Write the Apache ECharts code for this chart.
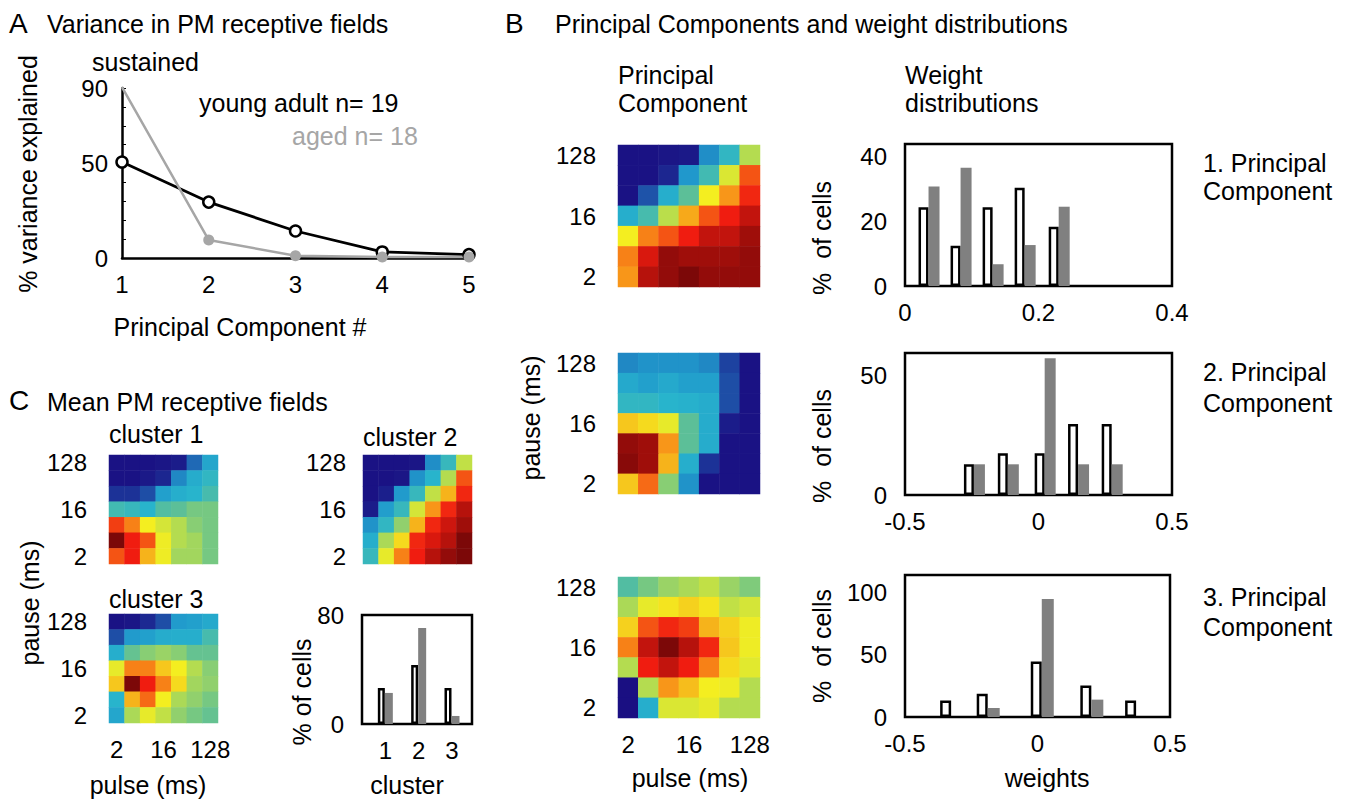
<!DOCTYPE html>
<html>
<head>
<meta charset="utf-8">
<title>PM receptive fields</title>
<script src="https://cdn.jsdelivr.net/npm/echarts@6/dist/echarts.min.js"></script>
<style>body{margin:0;background:#fff;}</style>
</head>
<body>
<div id="main" style="width:1348px;height:803px;"></div>
<script>
// ---- data ----
var pcNumber = [1, 2, 3, 4, 5];
var varYoung = [50.8, 29.6, 14.3, 3.2, 1.8];
var varAged = [90.5, 9.5, 1.2, 0.5, 0.5];

var pulseLevels = ['2', '4', '8', '16', '32', '64', '128'];
var pauseLevels = ['2', '4', '8', '16', '32', '64', '128'];

// rows from pause 128 (top) down to pause 2, columns pulse 2 -> 128, jet scale 0-100
var pc1Field = [
    [2, 2, 3, 4, 28, 42, 60],
    [2, 2, 8, 30, 45, 66, 85],
    [2, 17, 38, 50, 70, 79, 89],
    [38, 46, 61, 77, 85, 90, 94],
    [70, 81, 85, 90, 94, 94, 97],
    [81, 92, 98, 97, 97, 97, 98],
    [79, 95, 98, 100, 98, 98, 98]
];
var pc2Field = [
    [27, 29, 29, 29, 27, 14, 2],
    [36, 33, 36, 33, 33, 16, 2],
    [42, 42, 40, 39, 37, 16, 2],
    [74, 72, 68, 50, 37, 5, 2],
    [98, 97, 79, 50, 37, 2, 2],
    [99, 97, 76, 38, 11, 2, 2],
    [74, 83, 55, 29, 2, 2, 2]
];
var pc3Field = [
    [48, 53, 57, 59, 62, 57, 54],
    [59, 68, 71, 73, 71, 62, 65],
    [73, 85, 89, 87, 76, 73, 69],
    [81, 94, 100, 95, 89, 74, 69],
    [60, 90, 94, 90, 81, 72, 67],
    [1, 60, 79, 75, 70, 69, 60],
    [1, 38, 66, 66, 68, 60, 60]
];
var cluster1Field = [
    [2, 2, 2, 3, 5, 21, 35],
    [2, 2, 4, 8, 27, 37, 42],
    [11, 11, 16, 33, 38, 40, 46],
    [45, 43, 40, 48, 50, 53, 53],
    [87, 81, 70, 65, 60, 55, 53],
    [100, 90, 85, 69, 60, 58, 53],
    [85, 90, 76, 69, 58, 58, 53]
];
var cluster2Field = [
    [2, 2, 2, 3, 28, 43, 62],
    [2, 2, 3, 29, 40, 60, 85],
    [2, 6, 31, 43, 62, 76, 89],
    [5, 32, 43, 65, 79, 89, 95],
    [29, 42, 56, 76, 89, 93, 97],
    [38, 59, 72, 89, 92, 95, 100],
    [43, 68, 81, 90, 95, 98, 100]
];
var cluster3Field = [
    [2, 3, 9, 16, 31, 33, 36],
    [16, 31, 33, 37, 38, 38, 46],
    [38, 51, 55, 57, 55, 51, 51],
    [68, 81, 81, 74, 70, 60, 55],
    [74, 100, 90, 81, 72, 58, 56],
    [40, 76, 83, 70, 59, 56, 53],
    [35, 59, 68, 62, 56, 53, 51]
];

// weight histograms (bin centres, % of cells)
var w1Bins = [0.036, 0.084, 0.132, 0.18, 0.231];
var w1Young = [24.2, 12.4, 24.2, 30.2, 18.2];
var w1Aged = [30.6, 36.4, 6.7, 12.6, 24.4];

var w2Bins = [-0.24, -0.113, 0.025, 0.15, 0.276];
var w2Young = [12.8, 17.4, 17.4, 29.6, 29.6];
var w2Aged = [12.8, 12.8, 57, 12.8, 12.8];

var w3Bins = [-0.324, -0.186, 0.018, 0.205, 0.374];
var w3Young = [13.3, 18.7, 44.5, 25.3, 13.3];
var w3Aged = [0, 7.2, 94.4, 13.9, 0];

var clusterNumber = [1, 2, 3];
var clusterYoung = [26.4, 43.3, 26.4];
var clusterAged = [22.8, 70.5, 5.9];

var jetColors = ['#1a0c80', '#1c2c94', '#1f64b2', '#2098cc', '#28b4cc', '#5cbf98',
    '#b4dc50', '#f4ee20', '#f88c18', '#f01c10', '#7c0808'];

// ---- helpers ----
var FONT = 'Liberation Sans, Arial, sans-serif';
var GRAY = '#a6a6a6';
var BARGRAY = '#808080';
var chart = echarts.init(document.getElementById('main'), null, {renderer: 'svg'});

function pairs(xs, ys) {
    return xs.map(function (x, i) { return [x, ys[i]]; });
}
function cells(rows) {
    var out = [];
    for (var r = 0; r < rows.length; r++) {
        for (var c = 0; c < rows[r].length; c++) {
            out.push([c, rows.length - 1 - r, rows[r][c]]);
        }
    }
    return out;
}
function lbl(extra) {
    var o = {color: '#000', fontSize: 24, fontFamily: FONT};
    for (var k in extra) o[k] = extra[k];
    return o;
}
function onlyValues(list) {
    return function (v) {
        for (var i = 0; i < list.length; i++) {
            if (Math.abs(v - list[i]) < 1e-9) return String(list[i]);
        }
        return '';
    };
}
function txt(t, x, y, opt) {
    opt = opt || {};
    return {
        type: 'text', x: x, y: y, rotation: opt.rot || 0,
        style: {
            text: t, fill: opt.color || '#000',
            font: (opt.size || 25) + 'px ' + FONT,
            align: opt.align || 'left', verticalAlign: 'middle'
        }
    };
}

var grids = [
    {left: 122, top: 88, width: 347, height: 170},   // A
    {left: 618, top: 145, width: 142, height: 142},  // PC1
    {left: 618, top: 353, width: 142, height: 141},  // PC2
    {left: 618, top: 577, width: 142, height: 141},  // PC3
    {left: 905, top: 144, width: 267, height: 142},  // weights 1
    {left: 905, top: 353, width: 267, height: 142},  // weights 2
    {left: 905, top: 575, width: 265, height: 142},  // weights 3
    {left: 109, top: 455, width: 109, height: 109},  // cluster 1
    {left: 363, top: 455, width: 109, height: 109},  // cluster 2
    {left: 109, top: 614, width: 109, height: 109},  // cluster 3
    {left: 362, top: 615, width: 110, height: 109}   // cluster bars
];
grids.forEach(function (g, i) {
    g.outerBoundsMode = 'none';
    g.containLabel = false;
    if (i >= 4 && i <= 6 || i === 10) {
        g.show = true;
        g.borderColor = '#000';
        g.borderWidth = 2.5;
        g.backgroundColor = 'transparent';
    }
});

function heatX(gi, showLabels) {
    return {
        gridIndex: gi, type: 'category', data: pulseLevels,
        axisLine: {show: false}, axisTick: {show: false}, splitLine: {show: false},
        axisLabel: lbl({show: showLabels, interval: 2, margin: 14})
    };
}
function heatY(gi, margin) {
    return {
        gridIndex: gi, type: 'category', data: pauseLevels,
        axisLine: {show: false}, axisTick: {show: false}, splitLine: {show: false},
        axisLabel: lbl({interval: 2, margin: margin})
    };
}
function histX(gi, min, max, interval) {
    return {
        gridIndex: gi, type: 'value', min: min, max: max, interval: interval,
        axisLine: {show: false}, axisTick: {show: false}, splitLine: {show: false},
        axisLabel: lbl({margin: 14})
    };
}
function histY(gi, max, interval, shown) {
    return {
        gridIndex: gi, type: 'value', min: 0, max: max, interval: interval,
        axisLine: {show: false}, axisTick: {show: false}, splitLine: {show: false},
        axisLabel: lbl({margin: 18, formatter: onlyValues(shown)})
    };
}
function heatSeries(ai, rows) {
    return {
        type: 'heatmap', xAxisIndex: ai, yAxisIndex: ai, data: cells(rows),
        itemStyle: {borderWidth: 0}, emphasis: {disabled: true}
    };
}
function barPair(ai, xs, young, aged, w) {
    return [{
        type: 'bar', xAxisIndex: ai, yAxisIndex: ai, data: pairs(xs, young),
        barWidth: w, barGap: '0%',
        itemStyle: {color: '#fff', borderColor: '#000', borderWidth: 2.5}
    }, {
        type: 'bar', xAxisIndex: ai, yAxisIndex: ai, data: pairs(xs, aged),
        barWidth: w + 1, barGap: '0%',
        itemStyle: {color: BARGRAY}
    }];
}

var xAxes = [
    {
        gridIndex: 0, type: 'value', min: 1, max: 5, interval: 1,
        axisLine: {lineStyle: {color: '#000', width: 2.5}},
        axisTick: {show: false}, splitLine: {show: false},
        axisLabel: lbl({margin: 14})
    },
    heatX(1, false), heatX(2, false), heatX(3, true),
    histX(4, 0, 0.4, 0.2), histX(5, -0.5, 0.5, 0.5), histX(6, -0.5, 0.5, 0.5),
    heatX(7, false), heatX(8, false), heatX(9, true),
    {
        gridIndex: 10, type: 'value', min: 0.3, max: 3.6,
        axisLine: {show: false}, axisTick: {show: false}, splitLine: {show: false},
        axisLabel: lbl({margin: 14, formatter: onlyValues(clusterNumber)})
    }
];
var yAxes = [
    {
        gridIndex: 0, type: 'value', min: 0, max: 90, interval: 10,
        axisLine: {lineStyle: {color: '#000', width: 2.5}},
        axisTick: {inside: true, length: 4, lineStyle: {color: '#000', width: 1}},
        splitLine: {show: false},
        axisLabel: lbl({margin: 14, formatter: onlyValues([0, 50, 90])})
    },
    heatY(1, 22), heatY(2, 22), heatY(3, 22),
    histY(4, 43.7, 20, [0, 20, 40]), histY(5, 59.2, 50, [0, 50]), histY(6, 113.6, 50, [0, 50, 100]),
    heatY(7, 22), heatY(8, 17), heatY(9, 22),
    histY(10, 80, 80, [0, 80])
];

var series = [
    {
        type: 'line', xAxisIndex: 0, yAxisIndex: 0, data: pairs(pcNumber, varYoung),
        symbol: 'circle', symbolSize: 11,
        lineStyle: {color: '#000', width: 2.8},
        itemStyle: {color: '#fff', borderColor: '#000', borderWidth: 2.5}
    },
    {
        type: 'line', xAxisIndex: 0, yAxisIndex: 0, data: pairs(pcNumber, varAged),
        symbol: 'circle', symbolSize: 11,
        lineStyle: {color: GRAY, width: 2.5},
        itemStyle: {color: GRAY, borderWidth: 0}
    },
    heatSeries(1, pc1Field), heatSeries(2, pc2Field), heatSeries(3, pc3Field)
]
    .concat(barPair(4, w1Bins, w1Young, w1Aged, 10))
    .concat(barPair(5, w2Bins, w2Young, w2Aged, 10))
    .concat(barPair(6, w3Bins, w3Young, w3Aged, 11))
    .concat([heatSeries(7, cluster1Field), heatSeries(8, cluster2Field), heatSeries(9, cluster3Field)])
    .concat(barPair(10, clusterNumber, clusterYoung, clusterAged, 7));

var R = -Math.PI / 2;
var texts = [
    txt('A', 9, 23, {size: 28}),
    txt('Variance in PM receptive fields', 47, 24),
    txt('sustained', 92, 62),
    txt('young adult n= 19', 199, 103),
    txt('aged n= 18', 292, 136, {color: GRAY}),
    txt('% variance explained', 28, 174, {rot: -R, align: 'center'}),
    txt('Principal Component #', 240, 327, {align: 'center'}),

    txt('B', 505, 23, {size: 28}),
    txt('Principal Components and weight distributions', 555, 24),
    txt('Principal', 618, 75),
    txt('Component', 618, 103),
    txt('Weight', 905, 75),
    txt('distributions', 905, 103),
    txt('1. Principal', 1203, 163),
    txt('Component', 1203, 191),
    txt('2. Principal', 1203, 372),
    txt('Component', 1203, 403),
    txt('3. Principal', 1203, 597),
    txt('Component', 1203, 627),
    txt('%  of cells', 822, 238, {rot: -R, align: 'center'}),
    txt('%  of cells', 822, 446, {rot: -R, align: 'center'}),
    txt('%  of cells', 822, 646, {rot: -R, align: 'center'}),
    txt('pause (ms)', 531, 418, {rot: -R, align: 'center'}),
    txt('pulse (ms)', 690, 778, {align: 'center'}),
    txt('weights', 1047, 778, {align: 'center'}),

    txt('C', 9, 400, {size: 28}),
    txt('Mean PM receptive fields', 47, 402),
    txt('cluster 1', 109, 434),
    txt('cluster 2', 363, 437),
    txt('cluster 3', 109, 599),
    txt('pause (ms)', 30, 603, {rot: -R, align: 'center'}),
    txt('pulse (ms)', 148, 785, {align: 'center'}),
    txt('% of cells', 302, 692, {rot: -R, align: 'center'}),
    txt('cluster', 407, 785, {align: 'center'})
];

chart.setOption({
    animation: false,
    backgroundColor: '#fff',
    grid: grids,
    xAxis: xAxes,
    yAxis: yAxes,
    visualMap: {
        type: 'continuous', show: false, min: 0, max: 100,
        seriesIndex: [2, 3, 4, 11, 12, 13],
        inRange: {color: jetColors}
    },
    series: series,
    graphic: texts
});
</script>
</body>
</html>
